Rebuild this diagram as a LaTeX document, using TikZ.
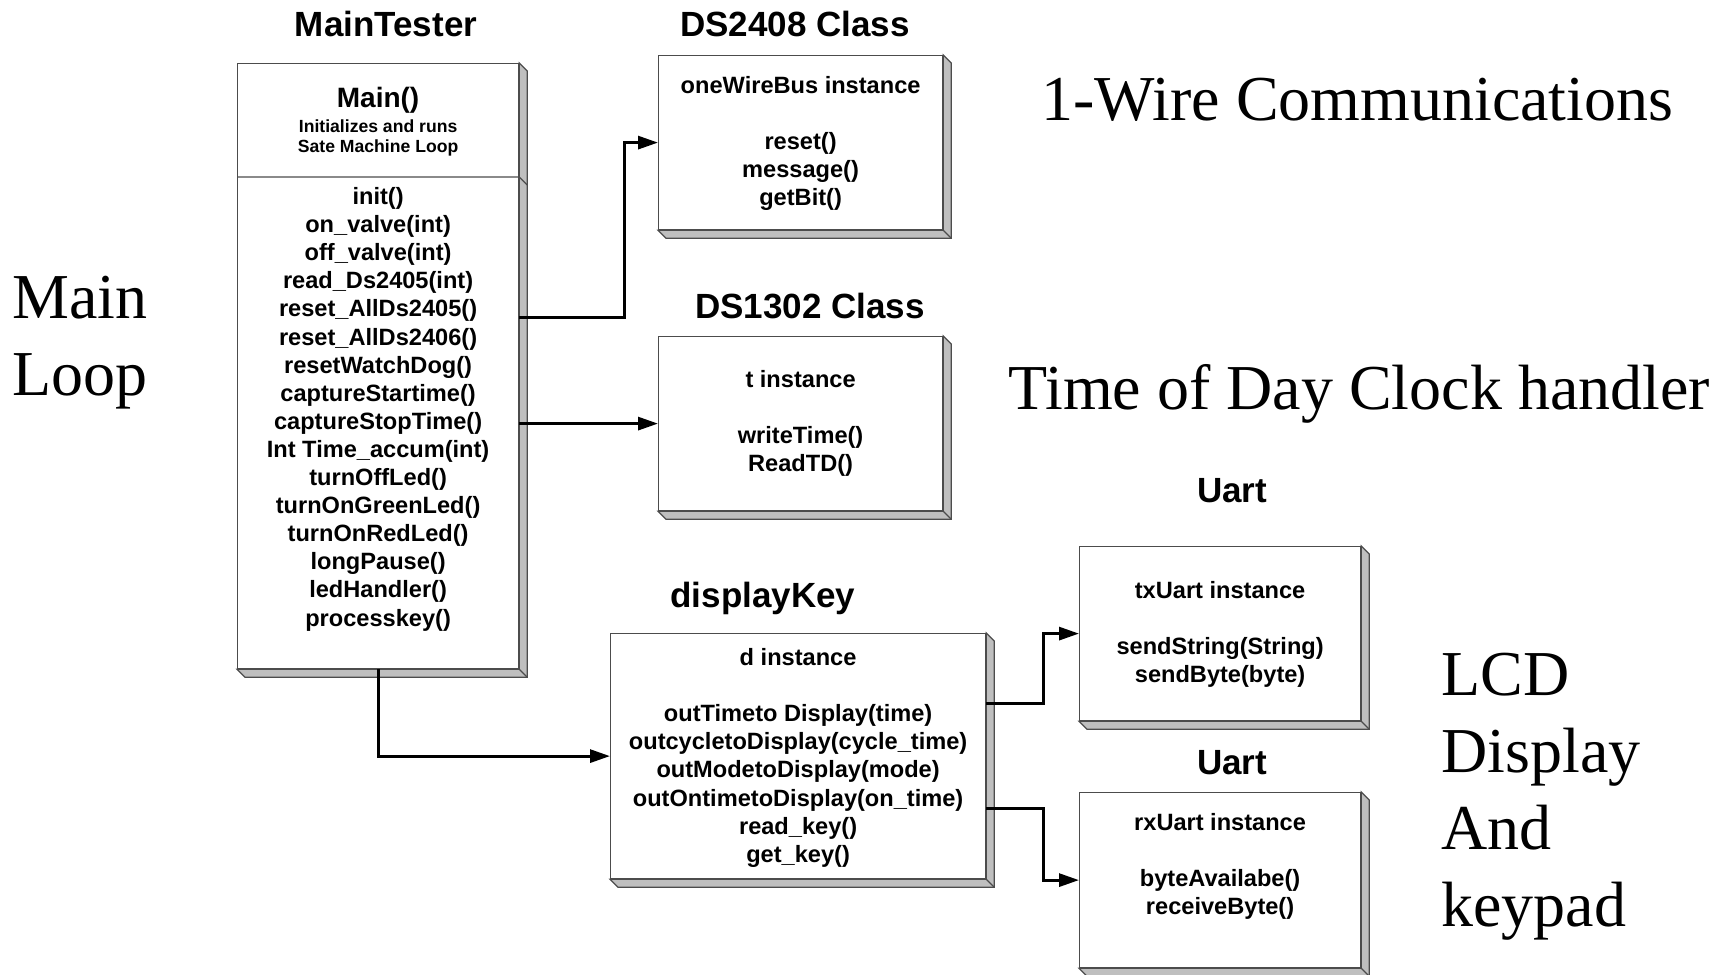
\documentclass[tikz,border=0pt]{standalone}
\usepackage{fontspec}
\setmainfont{Liberation Serif}
\newfontfamily\arialfont{Liberation Sans}
\usetikzlibrary{positioning,calc,arrows.meta}
\tikzset{
  classbox/.style={draw=black!70, line width=0.6pt, fill=white, inner sep=0pt, anchor=north west},
  sideface/.style={draw=black!70, line width=0.6pt, fill=black!25},
  classname/.style={font=\arialfont\bfseries\fontsize{17.5}{21}\selectfont, anchor=base, inner sep=0pt},
  members/.style={font=\arialfont\bfseries\fontsize{11.8}{14.05}\selectfont, align=center, inner sep=0pt},
  bigtext/.style={font=\fontsize{32}{38.5}\selectfont, align=left, inner sep=0pt},
  link/.style={line width=1.5pt, -{Triangle[length=10pt,width=6.5pt]}}
}
\newcommand{\slab}[1]{%
  \draw[sideface] (#1.north east) -- ++(8,8) -- ($(#1.south east)+(8,8)$) -- ($(#1.south west)+(8,8)$) -- (#1.south west) -- (#1.south east) -- cycle;
  \draw[sideface] (#1.south east) -- ++(8,8);}
\begin{document}
\begin{tikzpicture}[x=0.5pt, y=-0.5pt]
\useasboundingbox (0,0) rectangle (1728,974);
\node[classname] (mtTitle) at (386,37) {MainTester};
\node[classname] (owTitle) at (795,37) {DS2408 Class};
\node[classname] (rtcTitle) at (810,318) {DS1302 Class};
\node[classname] (dkTitle) at (763,607) {displayKey};
\node[classname] (txTitle) at (1232,502) {Uart};
\node[classname] (rxTitle) at (1232,774) {Uart};
\node[classbox, minimum width=140.5pt, minimum height=302.5pt] (main) at (237,63) {};
\node[classbox, minimum width=142pt, minimum height=87pt] (ds2408) at (658,55) {};
\node[classbox, minimum width=142pt, minimum height=87pt] (ds1302) at (658,336) {};
\node[classbox, minimum width=187.5pt, minimum height=122.5pt] (dk) at (610,633) {};
\node[classbox, minimum width=140.5pt, minimum height=87pt] (tx) at (1079,546) {};
\node[classbox, minimum width=140.5pt, minimum height=87.5pt] (rx) at (1079,792) {};
\slab{main}
\slab{ds2408}
\slab{ds1302}
\slab{dk}
\slab{tx}
\slab{rx}
\draw[black!70, line width=0.6pt] ([yshift=-57pt]main.north west) -- ([yshift=-57pt]main.north east) -- ++(8,8);
\node[font=\arialfont\bfseries\fontsize{14}{16.8}\selectfont, inner sep=0pt, below=11.75pt of main.north] (mainHead) {Main()};
\node[font=\arialfont\bfseries\fontsize{8.8}{10}\selectfont, align=center, inner sep=0pt, below=28pt of main.north] (mainDesc) {Initializes and runs\\Sate Machine Loop};
\node[members, below=62pt of main.north] (mainOps) {init()\\on\_valve(int)\\off\_valve(int)\\read\_Ds2405(int)\\reset\_AllDs2405()\\reset\_AllDs2406()\\resetWatchDog()\\captureStartime()\\captureStopTime()\\Int Time\_accum(int)\\turnOffLed()\\turnOnGreenLed()\\turnOnRedLed()\\longPause()\\ledHandler()\\processkey()};
\node[members, below=10.5pt of ds2408.north] (ds2408Ops) {oneWireBus instance\\[14.05pt]reset()\\message()\\getBit()};
\node[members, below=17pt of ds1302.north] (ds1302Ops) {t instance\\[14.05pt]writeTime()\\ReadTD()};
\node[members, below=7.5pt of dk.north] (dkOps) {d instance\\[14.05pt]outTimeto Display(time)\\outcycletoDisplay(cycle\_time)\\outModetoDisplay(mode)\\outOntimetoDisplay(on\_time)\\read\_key()\\get\_key()};
\node[members, below=17.5pt of tx.north] (txOps) {txUart instance\\[14.05pt]sendString(String)\\sendByte(byte)};
\node[members, below=10.5pt of rx.north] (rxOps) {rxUart instance\\[14.05pt]byteAvailabe()\\receiveByte()};
\draw[link] (main.east |- 0,317) -- (624,317) |- (ds2408.west);
\draw[link] (main.east |- ds1302.west) -- (ds1302.west);
\draw[link] (main.south) |- (dk.west);
\draw[link] (dk.east |- 0,703) -- (1043,703) |- (tx.west);
\draw[link] (dk.east |- 0,808) -- (1043,808) |- (rx.west);
\node[bigtext, anchor=base west] (owLbl) at (1041,120) {1-Wire Communications};
\node[bigtext, anchor=base west] (todLbl) at (1008,409) {Time of Day Clock handler};
\node[bigtext, anchor=north west] (loopLbl) at (12,276) {Main\\Loop};
\node[bigtext, anchor=north west] (lcdLbl) at (1441,653) {LCD\\Display\\And\\keypad};
\end{tikzpicture}
\end{document}
